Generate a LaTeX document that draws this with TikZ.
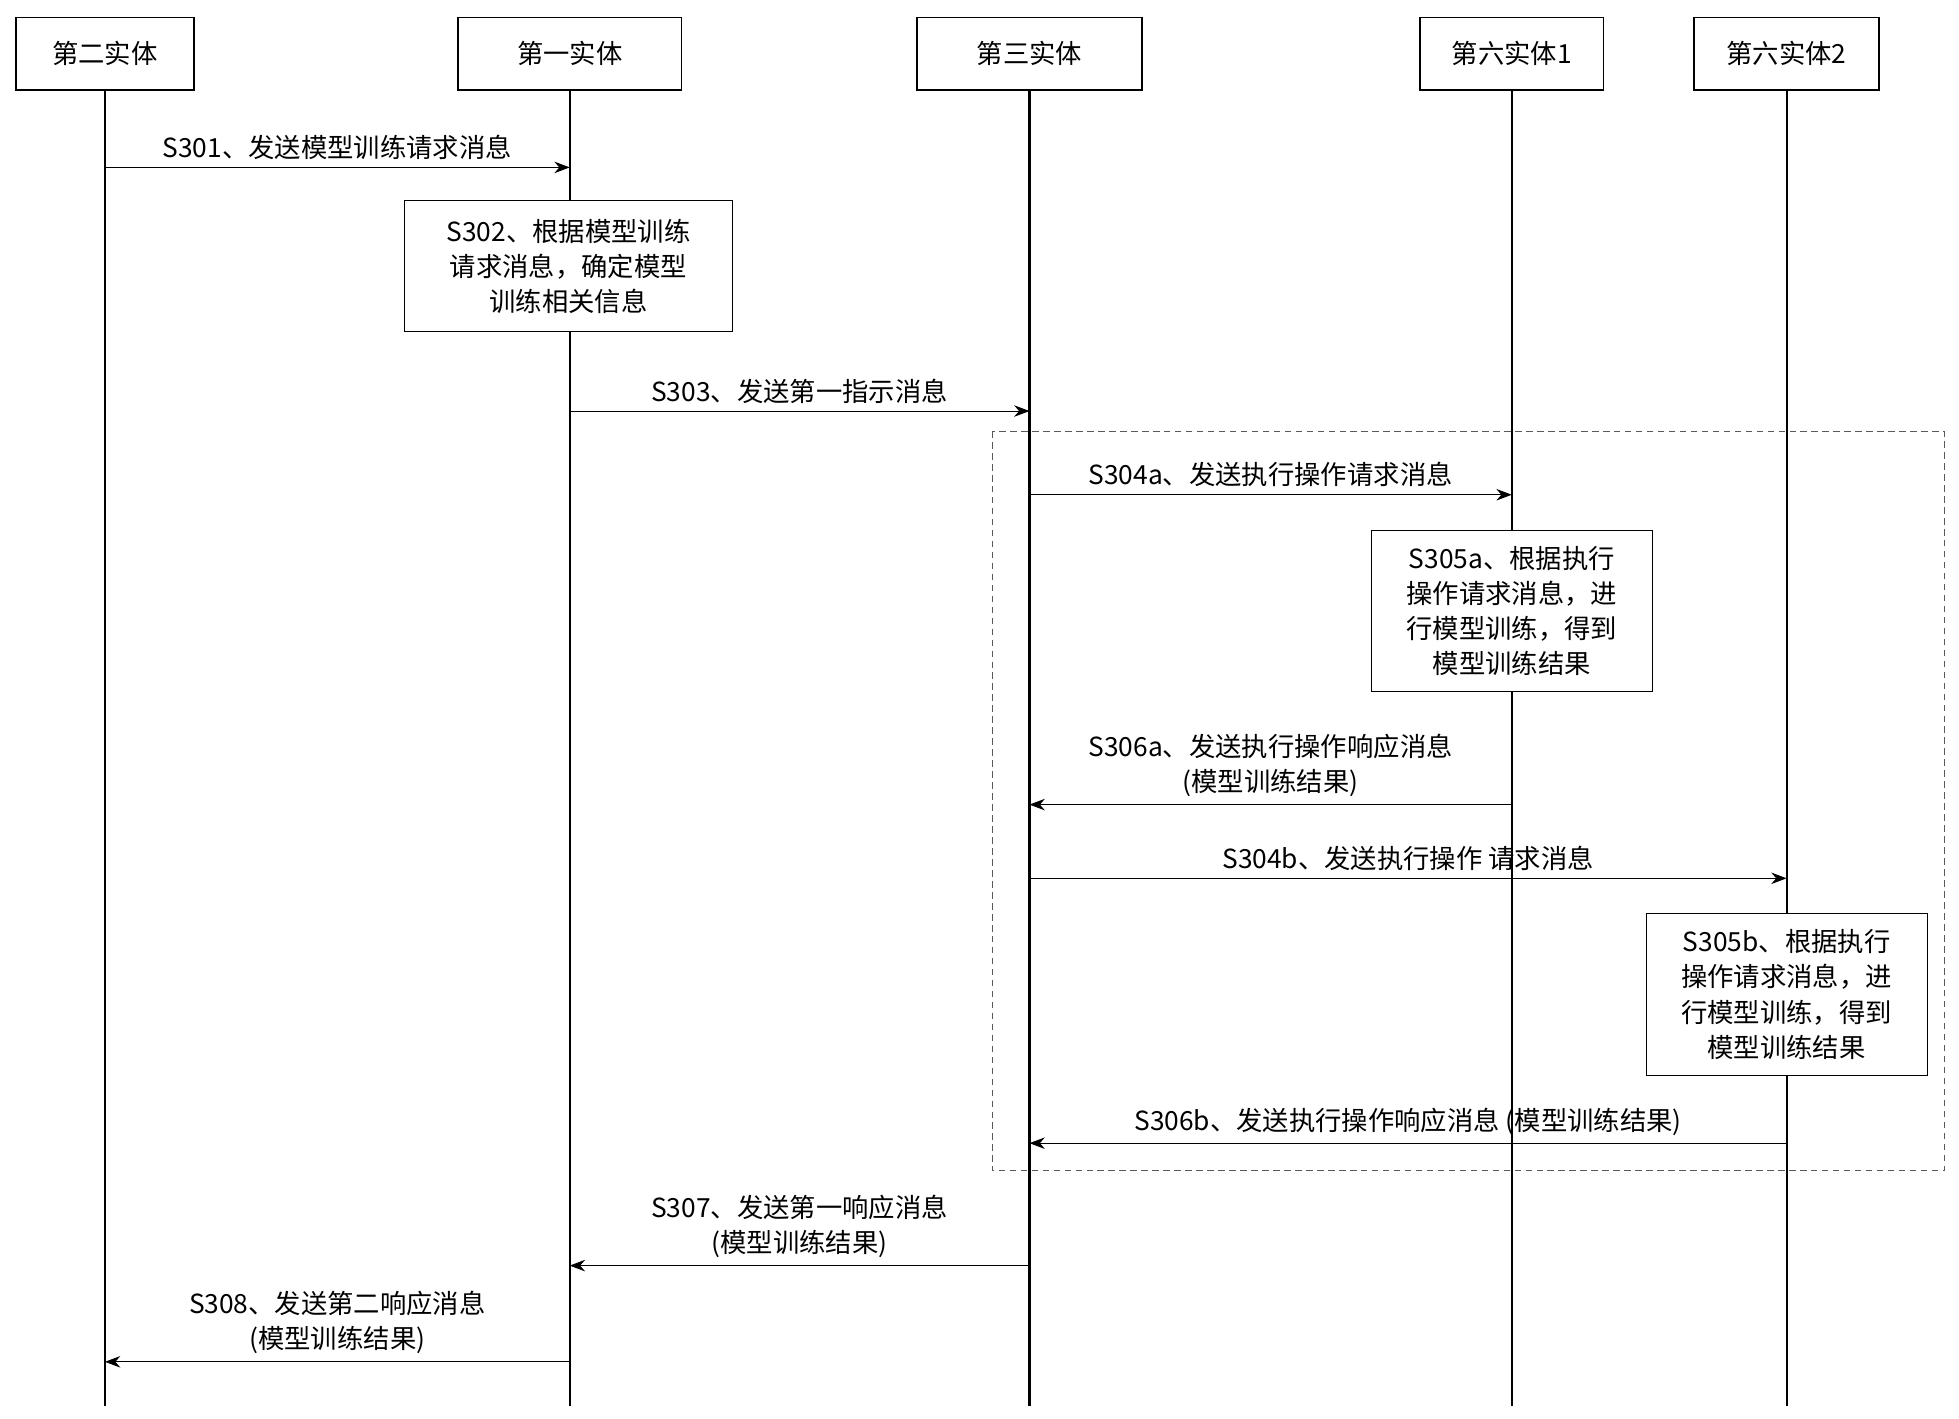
\documentclass[tikz,border=0pt]{standalone}
\usepackage{fontspec}
\setmainfont{Noto Sans CJK SC}
\usetikzlibrary{arrows.meta}
\begin{document}
\begin{tikzpicture}[x=0.02cm, y=-0.02cm,
    every node/.style={font=\fontsize{12}{16}\selectfont},
    head/.style={draw, thick, minimum height=1.16cm, inner sep=2pt},
    stepbox/.style={draw, fill=white, align=center, inner sep=4pt},
    msg/.style={-{Stealth[length=7pt]}, thin},
    life/.style={line width=1pt},
    ]
\useasboundingbox (0,0) rectangle (1568,1135);

% participants
\node[head, minimum width=2.86cm] (e2) at (84,43) {第二实体};
\node[head, minimum width=3.58cm] (e1) at (456,43) {第一实体};
\node[head, minimum width=3.6cm] (e3) at (824,43) {第三实体};
\node[head, minimum width=2.94cm] (e61) at (1210,43) {第六实体1};
\node[head, minimum width=2.96cm] (e62) at (1430,43) {第六实体2};

% lifelines
\foreach \n/\x in {e2/84, e1/456, e3/824, e61/1210, e62/1430}
    \draw[life] (\n.south) -- (\x,1125);

% dashed group
\draw[densely dashed, thin, gray!70!black] (794,345) rectangle (1556,937);

% steps on lifelines
\node[stepbox, minimum width=5.26cm, minimum height=2.1cm] (s302) at (455,213)
    {S302、根据模型训练\\请求消息，确定模型\\训练相关信息};
\node[stepbox, minimum width=4.5cm, minimum height=2.58cm] (s305a) at (1210,489)
    {S305a、根据执行\\操作请求消息，进\\行模型训练，得到\\模型训练结果};
\node[stepbox, minimum width=4.5cm, minimum height=2.58cm] (s305b) at (1430,796)
    {S305b、根据执行\\操作请求消息，进\\行模型训练，得到\\模型训练结果};

% messages
\coordinate (a1) at (84,134);   \coordinate (b1) at (456,134);
\coordinate (a3) at (456,329);  \coordinate (b3) at (824,329);
\coordinate (a4) at (824,396);  \coordinate (b4) at (1210,396);
\coordinate (a6) at (1210,644); \coordinate (b6) at (824,644);
\coordinate (a4b) at (824,703); \coordinate (b4b) at (1430,703);
\coordinate (a6b) at (1430,915);\coordinate (b6b) at (824,915);
\coordinate (a7) at (824,1013); \coordinate (b7) at (456,1013);
\coordinate (a8) at (456,1090); \coordinate (b8) at (84,1090);

\draw[msg] (a1) -- node[above] {S301、发送模型训练请求消息} (b1);
\draw[msg] (a3) -- node[above] {S303、发送第一指示消息} (b3);
\draw[msg] (a4) -- node[above] {S304a、发送执行操作请求消息} (b4);
\draw[msg] (a6) -- node[above, align=center] {S306a、发送执行操作响应消息\\(模型训练结果)} (b6);
\draw[msg] (a4b) -- node[above] {S304b、发送执行操作 请求消息} (b4b);
\draw[msg] (a6b) -- node[above] {S306b、发送执行操作响应消息 (模型训练结果)} (b6b);
\draw[msg] (a7) -- node[above, align=center] {S307、发送第一响应消息\\(模型训练结果)} (b7);
\draw[msg] (a8) -- node[above, align=center] {S308、发送第二响应消息\\(模型训练结果)} (b8);
\end{tikzpicture}
\end{document}
